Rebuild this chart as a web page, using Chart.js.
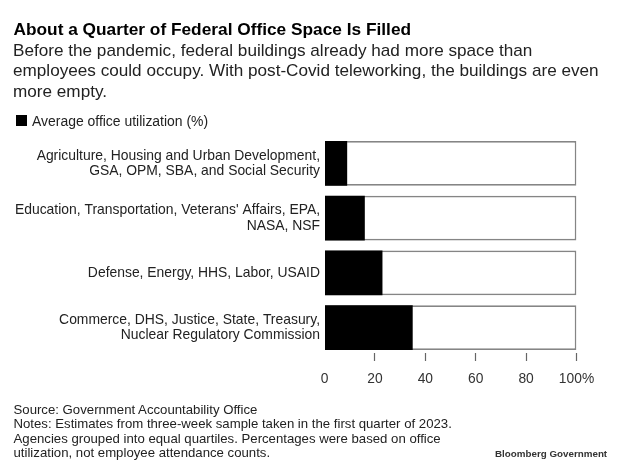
<!DOCTYPE html>
<html>
<head>
<meta charset="utf-8">
<script src="https://cdn.jsdelivr.net/npm/chart.js@4"></script>
<style>
  html, body { margin: 0; padding: 0; background: #fff; }
  body { width: 620px; height: 472px; position: relative; overflow: hidden; font-family: "Liberation Sans", sans-serif; color: #222; }
  #wrap { position: absolute; left: 0; top: 0; width: 620px; height: 472px; }
  .txt { position: absolute; white-space: nowrap; }
  #title { left: 13.5px; top: 19px; font-size: 17.3px; line-height: 20px; font-weight: bold; color: #000; }
  #subtitle { left: 13px; top: 40px; font-size: 17.15px; line-height: 20.4px; }
  #legend { left: 16px; top: 113px; font-size: 13.95px; line-height: 16px; }
  #legend i { position: absolute; left: 0; top: 1.5px; width: 11px; height: 11px; background: #000; }
  #legend span { margin-left: 16px; }
  #notes { left: 13.5px; top: 403px; font-size: 13.2px; line-height: 14.4px; }
  #brand { left: 495px; top: 447px; font-size: 9.8px; line-height: 14px; font-weight: bold; color: #333; }
</style>
</head>
<body>
<div id="wrap"><canvas id="chart" width="620" height="472"></canvas></div>
<div class="txt" id="title">About a Quarter of Federal Office Space Is Filled</div>
<div class="txt" id="subtitle">Before the pandemic, federal buildings already had more space than<br>employees could occupy. With post-Covid teleworking, the buildings are even<br>more empty.</div>
<div class="txt" id="legend"><i></i><span>Average office utilization (%)</span></div>
<div class="txt" id="notes">Source: Government Accountability Office<br>Notes: Estimates from three-week sample taken in the first quarter of 2023.<br>Agencies grouped into equal quartiles. Percentages were based on office<br>utilization, not employee attendance counts.</div>
<div class="txt" id="brand">Bloomberg Government</div>
<script>
// chart data
const categories = [
    ['Agriculture, Housing and Urban Development,', 'GSA, OPM, SBA, and Social Security'],
    ["Education, Transportation, Veterans' Affairs, EPA,", 'NASA, NSF'],
    ['Defense, Energy, HHS, Labor, USAID'],
    ['Commerce, DHS, Justice, State, Treasury,', 'Nuclear Regulatory Commission']
];
const utilization = [9, 16, 23, 35];
const fullScale = [100, 100, 100, 100];
const tickLabels = ['0', '20', '40', '60', '80', '100%'];

// ticks start just under the last bar, a little above the plot's bottom edge
const raiseTicks = {
    id: 'raiseTicks',
    afterLayout(chart) {
        chart.scales.x.top = chart.chartArea.bottom - 2;
    }
};

new Chart(document.getElementById('chart').getContext('2d'), {
    type: 'bar',
    data: {
        labels: categories,
        datasets: [
            { label: 'Average office utilization (%)', data: utilization, backgroundColor: '#000', borderWidth: 0, grouped: false, order: 1 },
            { label: 'Full', data: fullScale, backgroundColor: '#fff', borderColor: '#858585', borderWidth: 1.8, grouped: false, order: 2 }
        ]
    },
    plugins: [raiseTicks],
    options: {
        indexAxis: 'y',
        responsive: false,
        animation: false,
        barPercentage: 0.815,
        categoryPercentage: 1,
        layout: { padding: { top: 136, right: 43.5, left: 0, bottom: 0 } },
        plugins: { legend: { display: false }, tooltip: { enabled: false } },
        scales: {
            x: {
                min: 0,
                max: 100,
                border: { display: false },
                grid: {
                    drawOnChartArea: false,
                    tickLength: 8,
                    tickWidth: 1.2,
                    tickColor: ctx => ctx.tick.value === 0 ? 'rgba(0,0,0,0)' : '#666'
                },
                ticks: {
                    stepSize: 20,
                    maxRotation: 0,
                    padding: 10,
                    color: '#333',
                    font: { family: '"Liberation Sans", sans-serif', size: 13.8 },
                    callback: (value, index) => tickLabels[index]
                },
                afterFit: scale => { scale.height = 117; }
            },
            y: {
                border: { display: false },
                grid: { display: false, drawTicks: false },
                ticks: {
                    padding: 4.5,
                    color: '#222',
                    font: { family: '"Liberation Sans", sans-serif', size: 13.9, lineHeight: 1.1 }
                },
                afterFit: scale => { scale.width = 324.5; }
            }
        }
    }
});
</script>
</body>
</html>
